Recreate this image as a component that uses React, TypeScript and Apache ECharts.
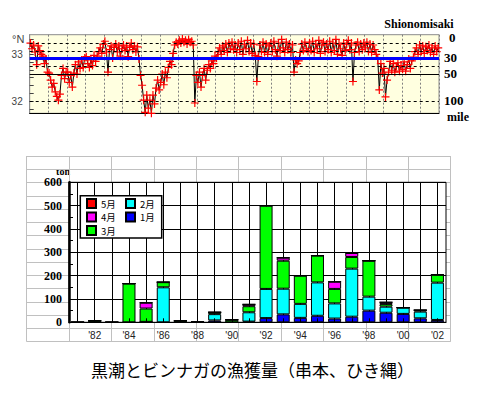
import * as echarts from "echarts";
import { useEffect, useRef } from "react";

// Kuroshio axis latitude (°N) off Shionomisaki, monthly, Jan 1981 - Dec 2002
const lat1981 = [33.24, 33.12, 33.2, 33.05, 32.78, 33.18, 33.08, 33.0, 32.96, 32.8, 32.9, 32.62];
const lat1982 = [32.6, 32.45, 32.3, 32.38, 32.2, 32.1, 32.02, 32.15, 32.55, 32.7, 32.48, 32.62];
const lat1983 = [32.62, 32.4, 32.55, 32.3, 32.6, 32.78, 32.58, 32.84, 32.7, 32.88, 32.72, 32.92];
const lat1984 = [32.95, 32.8, 32.72, 32.88, 32.76, 32.98, 32.85, 32.96, 33.06, 33.14, 33.02, 33.22];
const lat1985 = [33.28, 33.05, 32.62, 33.1, 33.18, 32.92, 33.15, 33.22, 33.05, 33.18, 32.96, 33.12];
const lat1986 = [33.2, 33.08, 33.18, 32.95, 33.15, 33.24, 33.1, 33.18, 33.05, 33.16, 32.9, 32.55];
const lat1987 = [32.34, 32.02, 31.76, 32.13, 31.85, 32.02, 31.74, 32.13, 31.94, 32.28, 32.45, 32.24];
const lat1988 = [32.4, 32.58, 32.35, 32.62, 32.5, 32.72, 32.85, 32.78, 33.02, 33.2, 33.26, 33.22];
const lat1989 = [33.3, 33.24, 33.33, 33.26, 33.3, 33.22, 33.32, 33.26, 33.28, 33.2, 31.96, 32.55];
const lat1990 = [32.4, 32.62, 32.3, 32.55, 32.7, 32.45, 32.66, 32.78, 32.7, 32.86, 32.8, 32.96];
const lat1991 = [32.92, 33.05, 33.14, 33.0, 33.18, 33.08, 33.22, 33.04, 33.24, 33.12, 33.26, 33.1];
const lat1992 = [33.2, 33.04, 33.24, 33.1, 33.28, 33.0, 33.22, 33.12, 33.3, 33.06, 33.24, 33.02];
const lat1993 = [33.22, 32.98, 32.42, 32.95, 33.2, 33.06, 33.26, 33.04, 33.22, 33.0, 33.18, 33.24];
const lat1994 = [33.06, 33.28, 33.1, 32.96, 33.24, 33.08, 33.32, 33.14, 33.04, 33.26, 33.1, 33.22];
const lat1995 = [33.04, 33.2, 32.62, 32.88, 32.8, 32.86, 33.04, 33.22, 33.08, 33.26, 33.12, 33.06];
const lat1996 = [33.24, 33.08, 33.28, 33.04, 33.22, 33.12, 33.3, 33.02, 33.2, 33.26, 33.06, 33.22];
const lat1997 = [33.1, 33.28, 33.04, 33.24, 33.08, 33.32, 33.0, 33.22, 33.12, 32.98, 33.24, 33.08];
const lat1998 = [33.22, 33.3, 33.1, 33.24, 32.42, 33.04, 33.2, 33.26, 33.06, 33.22, 33.1, 33.24];
const lat1999 = [33.14, 33.26, 33.06, 33.22, 33.04, 33.2, 33.1, 33.0, 32.9, 32.24, 32.8, 32.6];
const lat2000 = [32.7, 32.09, 32.45, 32.62, 32.85, 32.66, 32.8, 32.62, 32.74, 32.82, 32.64, 32.76];
const lat2001 = [32.68, 32.84, 32.64, 32.78, 32.9, 32.7, 32.86, 32.94, 33.06, 33.14, 33.0, 33.2];
const lat2002 = [33.06, 33.18, 33.02, 33.16, 33.08, 33.2, 33.04, 33.14, 33.0, 33.18, 33.06, 33.14];

const kuroshioLat = [
  ...lat1981, ...lat1982, ...lat1983, ...lat1984, ...lat1985, ...lat1986,
  ...lat1987, ...lat1988, ...lat1989, ...lat1990, ...lat1991, ...lat1992,
  ...lat1993, ...lat1994, ...lat1995, ...lat1996, ...lat1997, ...lat1998,
  ...lat1999, ...lat2000, ...lat2001, ...lat2002,
];
const firstYear = 1981;

// distance lines from Shionomisaki (miles) and their latitudes
const mileLineMiles = [10, 20, 30, 40, 50, 100];
const mileLineLats = [33.236, 33.07, 32.92, 32.75, 32.58, 32.0];
const latTickValues = [31.8333, 32, 32.1667, 32.3333, 32.5, 32.6667, 32.8333, 33, 33.1667, 33.3333];
const latLabelValues = [32, 33];

// catch (ton) by month, 1981 - 2002
const yearLabels = ["'81", "'82", "'83", "'84", "'85", "'86", "'87", "'88", "'89", "'90", "'91", "'92", "'93", "'94", "'95", "'96", "'97", "'98", "'99", "'00", "'01", "'02"];
const catchJan = [0, 0, 0, 0, 2, 0, 0, 0, 8, 0, 3, 18, 34, 19, 28, 16, 24, 50, 41, 36, 17, 10];
const catchFeb = [0, 0, 0, 0, 0, 150, 0, 0, 27, 0, 40, 125, 110, 60, 143, 65, 206, 60, 26, 27, 29, 160];
const catchMar = [0, 7, 0, 166, 57, 22, 7, 3, 8, 11, 26, 357, 120, 121, 115, 62, 50, 154, 11, 0, 6, 34];
const catchApr = [0, 0, 0, 0, 25, 0, 0, 0, 0, 0, 8, 0, 13, 0, 0, 31, 17, 0, 8, 0, 0, 0];
const catchMay = [0, 0, 0, 0, 0, 0, 0, 0, 0, 0, 0, 0, 0, 0, 0, 0, 0, 0, 0, 0, 0, 0];
const monthNames = ["1月", "2月", "3月", "4月", "5月"];
const monthColors = ["#0000ff", "#00ffff", "#00ff00", "#ff00ff", "#ff0000"];

const serif = "'Liberation Serif', 'Times New Roman', serif";
const sans = "'Liberation Sans', Arial, sans-serif";
const jp = "'Noto Sans CJK JP', sans-serif";

function mileLineStyle(miles: number) {
  if (miles === 30) return { color: "#0000ff", width: 3, type: "solid" };
  if (miles === 50) return { color: "#000", width: 1, type: "solid" };
  return { color: "#000", width: 1, type: [3, 3] };
}

const legendText = { fontSize: 9.5, lineHeight: 12, fontFamily: jp, color: "#000" };

export default function App() {
  const ref = useRef<HTMLDivElement | null>(null);

  useEffect(() => {
    document.body.style.margin = "0";
    if (!ref.current) return;
    const chart = echarts.init(ref.current, null, { renderer: "svg" });
    const latData = kuroshioLat.map((v, i) => [firstYear + (i + 0.5) / 12, v]);
    const catchByMonth = [catchJan, catchFeb, catchMar, catchApr, catchMay];

    chart.setOption({
      animation: false,
      backgroundColor: "#fff",
      textStyle: { fontFamily: sans },
      grid: [
        { left: 29.7, top: 34.7, width: 409.3, height: 78.6, show: true, backgroundColor: "#ffffe0", borderColor: "#8c8c8c", borderWidth: 1 },
        { left: 26.7, top: 156, width: 424, height: 185.7, show: false },
        { left: 69, top: 182.3, width: 377, height: 140, show: true, backgroundColor: "#fff", borderColor: "#000", borderWidth: 1, z: 1 },
      ],
      xAxis: [
        {
          gridIndex: 0, type: "value", min: 1981, max: 2003, interval: 1,
          axisLabel: { show: false }, axisTick: { show: false },
          axisLine: { show: true, onZero: false, lineStyle: { color: "#000" } },
          splitLine: { show: true, lineStyle: { color: "#808080", type: [2, 2] } },
        },
        {
          gridIndex: 1, type: "value", min: 0, max: 10, interval: 1,
          axisLabel: { show: false }, axisTick: { show: false }, axisLine: { show: false },
          splitLine: { show: true, lineStyle: { color: "#c0c0c0" } },
        },
        {
          gridIndex: 2, type: "category", data: yearLabels, z: 1,
          axisLine: { show: true, lineStyle: { color: "#000" } },
          axisTick: { show: false },
          axisLabel: { interval: (i: number) => i % 2 === 1, color: "#222", fontSize: 10, fontFamily: sans, margin: 8 },
          splitLine: { show: true, alignWithLabel: true, interval: 0, lineStyle: { color: "#000" } },
        },
        {
          gridIndex: 2, type: "category", data: yearLabels, position: "bottom", z: 5,
          axisLine: { show: false }, axisLabel: { show: false }, splitLine: { show: false },
          axisTick: { show: true, inside: true, length: 4, alignWithLabel: true, interval: 0, lineStyle: { color: "#000" } },
        },
      ],
      yAxis: [
        {
          gridIndex: 0, type: "value", min: 31.74, max: 33.42,
          axisLine: { show: true, lineStyle: { color: "#8c8c8c" } },
          axisTick: { show: true, inside: true, length: 4, customValues: latTickValues, lineStyle: { color: "#444" } },
          axisLabel: { customValues: latLabelValues, formatter: (v: number) => String(Math.round(v)), color: "#444", fontSize: 10, margin: 7 },
          splitLine: { show: false },
        },
        {
          gridIndex: 1, type: "value", min: 0, max: 14, interval: 1,
          axisLabel: { show: false }, axisTick: { show: false }, axisLine: { show: false },
          splitLine: { show: true, lineStyle: { color: "#c0c0c0" } },
        },
        {
          gridIndex: 2, type: "value", min: 0, max: 600, interval: 100, z: 1,
          axisLine: { show: true, lineStyle: { color: "#000", width: 2.5 } },
          axisTick: { show: true, inside: true, length: 4, lineStyle: { color: "#000" } },
          minorTick: { show: true, splitNumber: 2, length: 4, lineStyle: { color: "#000" } },
          axisLabel: { color: "#000", fontFamily: serif, fontWeight: "bold", fontSize: 12, margin: 7 },
          splitLine: { show: true, lineStyle: { color: "#000" } },
        },
      ],
      legend: [
        {
          data: ["5月", "4月", "3月"], orient: "vertical", left: 86, top: 197.5, padding: 0,
          itemWidth: 9, itemHeight: 9, itemGap: 1.5, icon: "rect", selectedMode: false,
          textStyle: legendText,
        },
        {
          data: ["2月", "1月"], orient: "vertical", left: 125, top: 197.5, padding: 0,
          itemWidth: 9, itemHeight: 9, itemGap: 1.5, icon: "rect", selectedMode: false,
          textStyle: legendText,
        },
      ],
      graphic: [
        { type: "rect", z: 3, shape: { x: 80.3, y: 195.7, width: 81.4, height: 42.3 }, style: { fill: "#fff", stroke: "#000", lineWidth: 1.5 } },
        { type: "text", x: 12, y: 39, style: { text: "°N", font: `11px ${sans}`, fill: "#444", textVerticalAlign: "middle", verticalAlign: "middle" } },
        { type: "text", x: 419, y: 23.5, style: { text: "Shionomisaki", font: `bold 12px ${serif}`, fill: "#000", textAlign: "center", align: "center", textVerticalAlign: "middle", verticalAlign: "middle" } },
        { type: "text", x: 449, y: 37.7, style: { text: "0", font: `bold 13px ${serif}`, fill: "#000", textVerticalAlign: "middle", verticalAlign: "middle" } },
        { type: "text", x: 444, y: 57.5, style: { text: "30", font: `bold 13px ${serif}`, fill: "#000", textVerticalAlign: "middle", verticalAlign: "middle" } },
        { type: "text", x: 444, y: 73.3, style: { text: "50", font: `bold 13px ${serif}`, fill: "#000", textVerticalAlign: "middle", verticalAlign: "middle" } },
        { type: "text", x: 444, y: 100.3, style: { text: "100", font: `bold 13px ${serif}`, fill: "#000", textVerticalAlign: "middle", verticalAlign: "middle" } },
        { type: "text", x: 447, y: 116.5, style: { text: "mile", font: `bold 12px ${serif}`, fill: "#000", textVerticalAlign: "middle", verticalAlign: "middle" } },
        { type: "text", x: 63, y: 171, style: { text: "ton", font: `bold 10px ${serif}`, fill: "#000", textAlign: "center", align: "center", textVerticalAlign: "middle", verticalAlign: "middle" } },
        { type: "text", x: 252.5, y: 369, style: { text: "黒潮とビンナガの漁獲量（串本、ひき縄）", font: `17px ${jp}`, fill: "#000", textAlign: "center", align: "center", textVerticalAlign: "middle", verticalAlign: "middle" } },
      ],
      series: [
        {
          type: "line", xAxisIndex: 0, yAxisIndex: 0, data: latData, silent: true, z: 2,
          showSymbol: true, showAllSymbol: true,
          symbol: "path://M0,4H8M4,0V8", symbolSize: 8,
          lineStyle: { color: "#000", width: 1 },
          itemStyle: { color: "#ff0000", borderColor: "#ff0000", borderWidth: 1.2 },
          markLine: {
            silent: true, symbol: "none", label: { show: false },
            data: mileLineLats.map((lat, i) => ({ yAxis: lat, lineStyle: mileLineStyle(mileLineMiles[i]) })),
          },
        },
        ...monthNames.map((name, k) => ({
          name, type: "bar", stack: "catch", xAxisIndex: 2, yAxisIndex: 2, data: catchByMonth[k],
          barWidth: 13, silent: true, z: 2,
          itemStyle: { color: monthColors[k], borderColor: "#000", borderWidth: 1 },
        })),
      ],
    });

    return () => chart.dispose();
  }, []);

  return <div ref={ref} style={{ width: 480, height: 400 }} />;
}
